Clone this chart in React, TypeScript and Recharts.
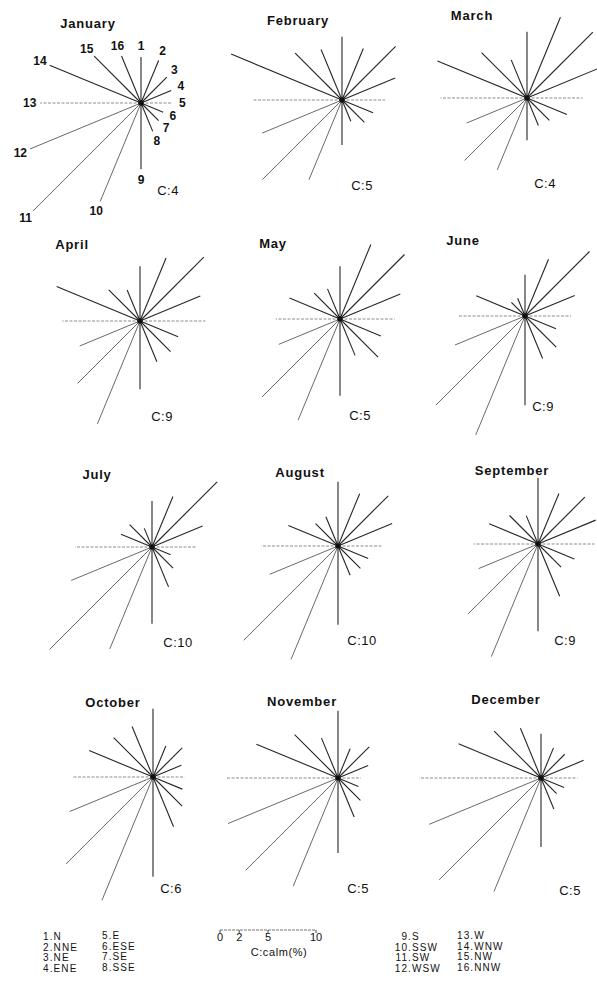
import { Scatter, ScatterChart, XAxis, YAxis } from 'recharts'

const directions = ['N', 'NNE', 'NE', 'ENE', 'E', 'ESE', 'SE', 'SSE', 'S', 'SSW', 'SW', 'WSW', 'W', 'WNW', 'NW', 'NNW']
const months = ['January', 'February', 'March', 'April', 'May', 'June', 'July', 'August', 'September', 'October', 'November', 'December']
const calm = [4, 5, 4, 9, 5, 9, 10, 10, 9, 6, 5, 5]

// frequency (%) per direction, N then clockwise
const january = [4.8, 4.8, 3.8, 3.4, 3.2, 2.5, 2.6, 3.2, 6.9, 11.1, 15.9, 12.5, 10.5, 10.3, 6.9, 5.3]
const february = [6.6, 5.8, 7.9, 6.0, 4.5, 3.5, 3.3, 2.4, 4.7, 9.0, 11.7, 9.0, 9.2, 12.5, 6.9, 5.7]
const march = [6.9, 9.1, 9.7, 8.1, 5.8, 4.5, 3.3, 3.1, 4.4, 8.1, 9.2, 6.8, 9.0, 10.1, 6.7, 4.3]
const april = [5.7, 7.1, 9.4, 6.8, 6.8, 4.3, 4.5, 4.6, 7.1, 11.6, 9.2, 6.8, 8.1, 9.4, 4.6, 3.5]
const may = [5.5, 8.4, 9.5, 6.8, 5.7, 4.6, 5.6, 4.1, 8.0, 11.4, 11.5, 6.9, 6.7, 5.7, 3.8, 3.4]
const june = [4.3, 6.4, 9.5, 5.6, 4.8, 3.5, 4.6, 4.8, 9.3, 13.4, 13.1, 7.9, 6.9, 5.5, 2.0, 2.0]
const july = [4.8, 5.7, 9.6, 5.7, 4.6, 2.1, 3.1, 4.5, 8.0, 11.5, 15.1, 9.1, 8.0, 3.5, 3.3, 2.1]
const august = [6.7, 5.9, 7.4, 6.1, 4.7, 3.4, 3.3, 3.3, 8.2, 12.8, 13.9, 7.7, 8.0, 5.6, 3.3, 3.3]
const september = [6.9, 5.7, 6.9, 6.5, 5.9, 4.1, 3.4, 5.9, 9.1, 12.7, 10.3, 6.7, 6.7, 5.5, 4.2, 3.2]
const october = [7.1, 3.5, 4.3, 3.2, 3.3, 3.3, 4.3, 5.6, 10.4, 13.9, 12.8, 9.4, 8.3, 7.2, 5.8, 5.7]
const november = [7.0, 3.3, 4.6, 3.4, 2.4, 2.3, 3.3, 4.4, 7.8, 12.2, 13.6, 12.4, 11.6, 9.2, 6.4, 4.5]
const december = [4.6, 3.4, 3.5, 4.8, 3.8, 2.6, 2.3, 3.5, 7.2, 12.8, 15.0, 12.6, 12.7, 9.3, 6.9, 5.6]

const scaleTicks = [0, 2, 5, 10]

const monthly = [january, february, march, april, may, june, july, august, september, october, november, december]

// layout
const PX_PER_PCT = 9.6
const SIZE = 340
const R = SIZE / 2 / PX_PER_PCT
const FONT = '"Liberation Sans", Arial, Helvetica, sans-serif'

const centers = [
  [141, 103], [342, 100], [527, 98],
  [140, 321], [340, 319], [525, 316],
  [152, 547], [338, 546], [538, 544],
  [153, 777], [338, 778], [541, 778],
]
const titlePos = [
  [88, 23], [298, 20], [472, 15],
  [72, 244], [273, 243], [463, 240],
  [97, 474], [300, 472], [512, 470],
  [113, 702], [302, 701], [506, 699],
]
const calmPos = [
  [168, 190], [362, 185], [545, 183],
  [162, 416], [360, 415], [543, 406],
  [178, 642], [362, 640], [565, 640],
  [171, 888], [358, 888], [570, 890],
]

function spokeStyle(i: number) {
  if (i === 4 || i === 12) return { stroke: '#8c8c8c', strokeWidth: 1, strokeDasharray: '3 1.5' }
  if (i === 9 || i === 10 || i === 11) return { stroke: '#6a6a6a', strokeWidth: 1 }
  return { stroke: '#262626', strokeWidth: 1.1 }
}

const noShape = () => <g />

function Rose({ values, numbered }: { values: number[]; numbered: boolean }) {
  const spokes = values.map((v, i) => {
    const a = (i * 22.5 * Math.PI) / 180
    return [
      { x: 0, y: 0 },
      { x: v * Math.sin(a), y: v * Math.cos(a) },
    ]
  })
  const numbers = values.map((v, i) => {
    const a = (i * 22.5 * Math.PI) / 180
    const r = v + 1.1
    return { x: r * Math.sin(a), y: r * Math.cos(a), n: i + 1 }
  })
  return (
    <ScatterChart width={SIZE} height={SIZE} margin={{ top: 0, right: 0, bottom: 0, left: 0 }}>
      <XAxis type="number" dataKey="x" domain={[-R, R]} hide allowDataOverflow />
      <YAxis type="number" dataKey="y" domain={[-R, R]} hide allowDataOverflow />
      {spokes.map((d, i) => (
        <Scatter key={directions[i]} data={d} line={spokeStyle(i)} shape={noShape} isAnimationActive={false} />
      ))}
      <Scatter
        data={[{ x: 0, y: 0 }]}
        isAnimationActive={false}
        shape={(p: any) => <circle cx={p.cx} cy={p.cy} r={2.8} fill="#111" />}
      />
      {numbered ? (
        <Scatter
          data={numbers}
          isAnimationActive={false}
          shape={(p: any) => (
            <text
              x={p.cx}
              y={p.cy}
              textAnchor="middle"
              dominantBaseline="central"
              fontSize={12}
              fontWeight="bold"
              fontFamily={FONT}
              fill="#111"
            >
              {p.payload.n}
            </text>
          )}
        />
      ) : null}
    </ScatterChart>
  )
}

function ScaleBar() {
  return (
    <div style={{ position: 'absolute', left: 210, top: 928 }}>
      <ScatterChart width={116} height={36} margin={{ top: 0, right: 10, bottom: 0, left: 10 }}>
        <XAxis
          type="number"
          dataKey="x"
          domain={[0, 10]}
          ticks={scaleTicks}
          interval={0}
          height={34}
          tickSize={3}
          tickMargin={0}
          axisLine={{ stroke: '#777', strokeDasharray: '3 1' }}
          tickLine={{ stroke: '#444' }}
          tick={{ fontSize: 11, fill: '#111', fontFamily: FONT }}
        />
        <YAxis type="number" dataKey="y" domain={[0, 1]} hide />
        <Scatter data={[{ x: 0, y: 0 }, { x: 10, y: 0 }]} shape={noShape} isAnimationActive={false} />
      </ScatterChart>
    </div>
  )
}

const legendText = { fontSize: 10, letterSpacing: 1.1, lineHeight: '10.6px', color: '#111', whiteSpace: 'nowrap' as const }

function LegendColumn({ from, left, top, numWidth }: { from: number; left: number; top: number; numWidth?: number }) {
  return (
    <div style={{ position: 'absolute', left, top, ...legendText }}>
      {directions.slice(from, from + 4).map((d, k) => (
        <div key={d} style={{ display: 'flex', height: 10.6 }}>
          <span style={numWidth ? { width: numWidth, textAlign: 'right' } : undefined}>{from + k + 1}.</span>
          <span>{d}</span>
        </div>
      ))}
    </div>
  )
}

export default function App() {
  const center = { position: 'absolute' as const, transform: 'translate(-50%, -50%)', whiteSpace: 'nowrap' as const, lineHeight: 1 }
  return (
    <div
      style={{
        position: 'absolute',
        left: 0,
        top: 0,
        width: 597,
        height: 986,
        overflow: 'hidden',
        background: '#fff',
        fontFamily: FONT,
        color: '#111',
      }}
    >
      {monthly.map((vals, m) => (
        <div key={months[m]} style={{ position: 'absolute', left: centers[m][0] - SIZE / 2, top: centers[m][1] - SIZE / 2 }}>
          <Rose values={vals} numbered={m === 0} />
        </div>
      ))}
      {months.map((name, m) => (
        <div key={name} style={{ ...center, left: titlePos[m][0], top: titlePos[m][1], fontSize: 13, fontWeight: 'bold', letterSpacing: 0.8 }}>
          {name}
        </div>
      ))}
      {calm.map((c, m) => (
        <div key={months[m]} style={{ ...center, left: calmPos[m][0], top: calmPos[m][1], fontSize: 13, letterSpacing: 0.5 }}>
          C:{c}
        </div>
      ))}
      <LegendColumn from={0} left={43} top={932} />
      <LegendColumn from={4} left={102} top={931} />
      <LegendColumn from={8} left={391} top={932} numWidth={21} />
      <LegendColumn from={12} left={457} top={931} />
      <ScaleBar />
      <div style={{ ...center, left: 279, top: 952, fontSize: 11, letterSpacing: 0.6 }}>C:calm(%)</div>
    </div>
  )
}
